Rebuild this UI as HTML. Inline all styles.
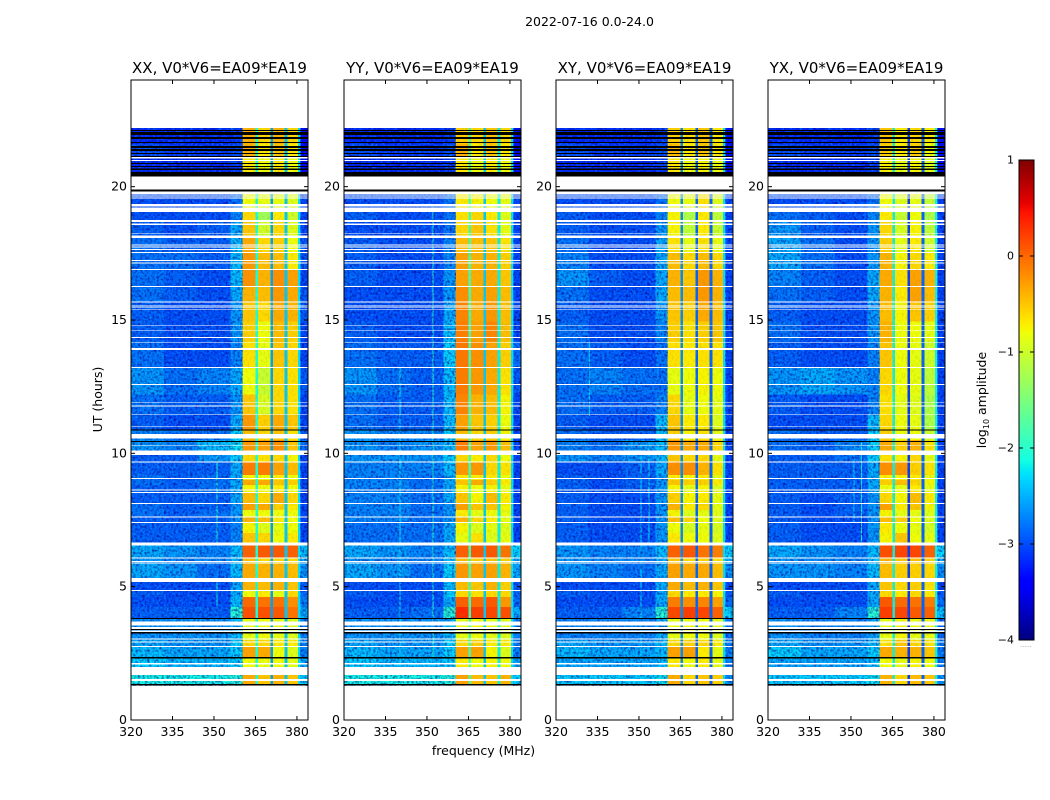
<!DOCTYPE html>
<html>
<head>
<meta charset="utf-8">
<title>2022-07-16 spectrograms</title>
<style>
html,body{margin:0;padding:0;background:#fff;}
svg{display:block;}
text{font-family:"DejaVu Sans","Liberation Sans",sans-serif;fill:#000;}
</style>
</head>
<body>
<svg id="chart" xmlns="http://www.w3.org/2000/svg" width="1050" height="800" viewBox="0 0 1050 800">
<defs>
<filter id="speckDark" x="0" y="0" width="1" height="1" color-interpolation-filters="sRGB">
<feTurbulence type="fractalNoise" baseFrequency="0.42" numOctaves="2" seed="3"/>
<feColorMatrix values="0 0 0 0 0  0 0 0 0 0  0 0 0 0 0.55  2.2 0 0 0 -0.9"/>
</filter>
<filter id="speckLight" x="0" y="0" width="1" height="1" color-interpolation-filters="sRGB">
<feTurbulence type="fractalNoise" baseFrequency="0.42" numOctaves="2" seed="11"/>
<feColorMatrix values="0 0 0 0 0  0 0 0 0 0.7  0 0 0 0 1  2.2 0 0 0 -0.95"/>
</filter>
<filter id="speckBand" x="0" y="0" width="1" height="1" color-interpolation-filters="sRGB">
<feTurbulence type="fractalNoise" baseFrequency="0.5 0.3" numOctaves="1" seed="7"/>
<feColorMatrix values="0 0 0 0 0.6  0 0 0 0 0.6  0 0 0 0 0  2 0 0 0 -0.9"/>
</filter>
</defs>
<text x="589.5" y="26" font-size="12.5" text-anchor="middle">2022-07-16 0.0-24.0</text>
<text x="483.5" y="755" font-size="12.5" text-anchor="middle">frequency (MHz)</text>
<text x="102" y="399.5" font-size="12.5" text-anchor="middle" transform="rotate(-90 102 399.5)">UT (hours)</text>
<g id="panels"></g>
<g id="colorbar"></g>
<text x="986" y="400" font-size="12.5" text-anchor="middle" transform="rotate(-90 986 400)">log<tspan font-size="8" dy="3">10</tspan><tspan dy="-3"> amplitude</tspan></text>
<text x="1026" y="647" font-size="6" text-anchor="middle" style="fill:#888">......</text>
</svg>
<script>
/* ---------- axis tick labels ---------- */
const freqTicks = [320, 335, 350, 365, 380];
const hourTicks = [0, 5, 10, 15, 20];
const colorbarTicks = [1, 0, -1, -2, -3, -4];
const panelTitles = ['XX, V0*V6=EA09*EA19', 'YY, V0*V6=EA09*EA19', 'XY, V0*V6=EA09*EA19', 'YX, V0*V6=EA09*EA19'];

/* ---------- heatmap column edges in MHz ---------- */
const freqEdges = [320, 332, 344, 356, 360.4, 365, 366, 370.4, 371.4, 375.5, 376.5, 380.4, 381.2, 384];

/* ---------- heatmap time-block edges in hours ---------- */
const hourEdges = [22.20,21.60,21.10,20.38,19.20,18.70,18.15,17.55,16.90,16.28,15.65,14.95,14.20,13.20,12.20,11.45,10.90,10.50,9.94,9.67,9.19,9.00,8.81,8.51,8.14,7.88,7.61,7.40,7.01,6.60,6.08,5.90,5.25,4.88,4.61,4.24,3.80,3.00,2.75,2.36,1.99,1.29];

/* ---------- log10 amplitude per block: bgL,bgM,bgR,shoulder,band1,band2,band3,band4,right ---------- */
const ampXX = [
[-3.2,-3.2,-3.2,-3.1,-.4,-.6,-.4,-.6,-3.3],
[-3.0,-3.1,-3.1,-3.0,-.4,-.7,-.5,-.7,-3.3],
[-3.2,-3.2,-3.2,-3.1,-.7,-.8,-.7,-.8,-3.3],
[-3.0,-3.0,-3.0,-2.8,-.8,-.85,-.85,-.9,-3.0],
[-3.0,-3.0,-3.0,-2.7,-.6,-1.3,-.7,-1.0,-3.0],
[-2.9,-3.0,-2.9,-2.5,-.5,-1.0,-.6,-.9,-3.0],
[-2.8,-2.9,-2.9,-2.4,-.35,-.6,-.55,-.8,-2.9],
[-2.8,-2.8,-2.9,-2.4,-.25,-.45,-.45,-.7,-2.9],
[-2.8,-2.9,-3.0,-2.4,-.22,-.4,-.2,-.3,-3.0],
[-2.8,-2.9,-3.0,-2.5,-.4,-.45,-.25,-.35,-2.9],
[-2.9,-3.0,-3.0,-2.6,-.5,-.6,-.35,-.4,-2.9],
[-2.9,-3.0,-3.0,-2.6,-.55,-.8,-.45,-.55,-3.0],
[-2.8,-3.0,-3.0,-2.7,-.65,-.85,-.5,-.6,-3.0],
[-2.6,-2.8,-2.7,-2.5,-.8,-1.05,-.6,-.65,-2.9],
[-2.8,-2.9,-2.9,-2.6,-.5,-.95,-.6,-.65,-3.0],
[-2.9,-3.0,-3.0,-2.5,-.25,-.55,-.35,-.5,-3.0],
[-2.7,-2.8,-2.8,-2.3,-.45,-.6,-.5,-.65,-2.9],
[-2.6,-2.7,-2.4,-2.2,-.25,-.3,-.2,-.5,-2.8],
[-2.9,-2.9,-2.6,-2.3,-.6,-.65,-.6,-.75,-3.0],
[-2.9,-2.9,-2.9,-2.5,-.1,-.1,-.3,-.45,-3.0],
[-2.8,-2.9,-2.8,-2.5,-.75,-.8,-.7,-.8,-3.0],
[-2.8,-2.9,-2.8,-2.5,-.35,-.35,-.5,-.55,-3.0],
[-2.9,-2.9,-2.8,-2.5,-.75,-.8,-.7,-.8,-3.0],
[-2.9,-2.9,-2.9,-2.5,-.45,-.6,-.35,-.6,-3.0],
[-2.8,-2.9,-2.9,-2.6,-.3,-.35,-.55,-.7,-3.0],
[-2.8,-2.9,-2.8,-2.6,-.8,-.8,-.8,-.8,-3.0],
[-2.9,-2.9,-2.9,-2.6,-.4,-.45,-.7,-.8,-3.0],
[-2.9,-2.9,-2.9,-2.7,-.75,-.9,-.85,-.8,-3.0],
[-2.9,-2.9,-2.9,-2.7,-.5,-.6,-.8,-.7,-3.0],
[-2.5,-2.6,-2.7,-2.4,.05,.1,.1,.05,-2.4],
[-2.6,-2.7,-2.7,-2.4,-.45,-.6,-.6,-.6,-2.5],
[-2.5,-2.6,-2.8,-2.4,-.35,-.4,-.4,-.45,-2.6],
[-3.0,-3.0,-3.0,-2.5,-.4,-.45,-.4,-.5,-2.9],
[-2.9,-3.0,-3.0,-2.5,-.8,-.7,-.85,-.6,-2.8],
[-3.0,-3.0,-3.0,-2.4,.0,-.05,-.05,-.2,-2.7],
[-2.9,-2.9,-2.9,-2.0,.15,.15,.1,-.05,-2.5],
[-2.6,-2.6,-2.6,-2.4,-.85,-.8,-.85,-.9,-2.7],
[-2.5,-2.6,-2.6,-2.3,-.6,-.6,-.7,-.7,-2.7],
[-2.4,-2.5,-2.5,-2.3,-.3,-.35,-.8,-.9,-2.7],
[-2.3,-2.4,-2.4,-2.3,-.8,-.85,-.8,-.85,-2.5],
[-2.1,-2.1,-2.1,-2.0,-.35,-.5,-.4,-.5,-2.3]
];
const ampYY = [
[-3.2,-3.2,-3.2,-3.1,-.55,-.6,-.5,-.6,-3.3],
[-3.0,-3.1,-3.1,-3.0,-.4,-.7,-.5,-.7,-3.3],
[-3.2,-3.2,-3.2,-3.1,-.7,-.8,-.7,-.8,-3.3],
[-3.0,-3.0,-3.0,-2.8,-.7,-.75,-.8,-.85,-3.0],
[-2.9,-3.0,-3.0,-2.8,-.65,-.6,-.7,-.9,-3.0],
[-3.0,-3.0,-3.0,-2.8,-.6,-.5,-.65,-.85,-3.0],
[-2.9,-3.0,-3.0,-2.7,-.45,-.45,-.5,-.65,-3.0],
[-2.9,-3.0,-3.0,-2.7,-.3,-.4,-.4,-.55,-3.0],
[-2.9,-3.0,-3.0,-2.6,-.3,-.35,-.35,-.5,-3.0],
[-3.0,-3.0,-3.0,-2.6,-.2,-.35,-.3,-.45,-3.0],
[-3.0,-3.0,-3.0,-2.5,-.15,-.35,-.25,-.45,-3.0],
[-2.9,-3.0,-3.0,-2.4,-.12,-.3,-.15,-.45,-3.0],
[-2.8,-2.9,-2.9,-2.3,-.08,-.2,-.3,-.55,-2.8],
[-2.6,-2.8,-2.9,-2.4,-.1,-.25,-.35,-.65,-2.9],
[-2.8,-2.9,-2.9,-2.4,-.15,-.4,-.45,-.75,-3.0],
[-2.8,-2.9,-2.9,-2.4,-.3,-.5,-.55,-.8,-3.0],
[-2.6,-2.7,-2.7,-2.3,-.45,-.6,-.55,-.75,-3.0],
[-2.6,-2.7,-2.6,-2.4,-.1,-.3,-.25,-.45,-3.0],
[-2.6,-2.6,-2.6,-2.3,-.6,-.7,-.6,-.8,-3.0],
[-2.7,-2.7,-2.7,-2.4,-.25,-.25,-.6,-.65,-3.0],
[-2.7,-2.7,-2.8,-2.5,-.7,-.7,-.7,-.8,-3.0],
[-2.7,-2.7,-2.8,-2.5,-.5,-.35,-.55,-.7,-3.0],
[-2.7,-2.7,-2.8,-2.5,-.75,-.8,-.75,-.85,-3.0],
[-2.7,-2.7,-2.8,-2.5,-.5,-.75,-.45,-.7,-3.0],
[-2.7,-2.7,-2.8,-2.6,-.3,-.5,-.5,-.75,-3.0],
[-2.7,-2.7,-2.8,-2.6,-.7,-.85,-.8,-.85,-3.0],
[-2.7,-2.7,-2.8,-2.6,-.4,-.6,-.7,-.85,-3.0],
[-2.8,-2.8,-2.8,-2.5,-.75,-.9,-.85,-.9,-3.0],
[-2.8,-2.8,-2.8,-2.5,-.85,-.65,-.9,-.85,-3.0],
[-2.5,-2.6,-2.7,-2.4,.05,.1,.1,-.05,-2.3],
[-2.6,-2.7,-2.7,-2.4,-.45,-.55,-.5,-.55,-2.5],
[-2.5,-2.6,-2.8,-2.3,-.25,-.3,-.3,-.4,-2.5],
[-3.0,-3.0,-3.0,-2.4,-.45,-.5,-.4,-.55,-2.9],
[-2.9,-3.0,-3.0,-2.3,-.6,-.65,-.6,-.6,-2.8],
[-3.0,-3.0,-3.0,-2.5,.05,.0,.1,-.25,-2.8],
[-2.9,-2.9,-2.8,-2.0,.35,.25,.2,.15,-2.5],
[-2.6,-2.6,-2.6,-2.4,-.85,-.8,-.85,-.9,-2.7],
[-2.5,-2.6,-2.6,-2.3,-.6,-.55,-.7,-.7,-2.7],
[-2.4,-2.5,-2.5,-2.3,-.3,-.3,-.75,-.9,-2.7],
[-2.3,-2.4,-2.4,-2.3,-.7,-.8,-.75,-.8,-2.5],
[-2.1,-2.1,-2.1,-2.0,-.3,-.45,-.5,-.4,-2.3]
];
const ampXY = [
[-3.2,-3.2,-3.2,-3.1,-.55,-.65,-.5,-.7,-3.3],
[-3.0,-3.1,-3.1,-3.0,-.45,-.7,-.5,-.7,-3.3],
[-3.2,-3.2,-3.2,-3.1,-.7,-.8,-.75,-.8,-3.3],
[-3.0,-3.0,-3.0,-2.8,-.8,-.85,-.65,-.9,-3.0],
[-2.9,-3.0,-3.0,-2.7,-.75,-1.2,-.7,-1.1,-3.0],
[-2.9,-3.0,-3.0,-2.6,-.75,-1.1,-.7,-1.05,-3.0],
[-2.8,-3.0,-3.0,-2.5,-.65,-.85,-.65,-.85,-3.0],
[-2.7,-3.0,-3.0,-2.5,-.45,-.6,-.45,-.6,-3.0],
[-2.6,-2.9,-3.0,-2.5,-.4,-.5,-.25,-.4,-3.0],
[-2.8,-3.0,-3.0,-2.5,-.45,-.45,-.25,-.4,-3.0],
[-2.9,-3.0,-3.0,-2.6,-.5,-.55,-.35,-.45,-3.0],
[-2.8,-3.0,-3.0,-2.7,-.55,-.65,-.55,-.5,-3.0],
[-2.8,-2.9,-3.0,-2.8,-.65,-.7,-.65,-.65,-3.0],
[-2.8,-2.7,-2.8,-2.8,-.85,-.8,-.75,-.8,-3.0],
[-2.8,-2.9,-2.9,-2.7,-.6,-.85,-.8,-.85,-3.0],
[-2.9,-3.0,-3.0,-2.4,-.5,-.7,-.7,-.9,-3.0],
[-2.8,-2.9,-2.9,-2.4,-.55,-.75,-.65,-.85,-3.0],
[-2.7,-2.8,-2.6,-2.4,-.25,-.35,-.35,-.6,-3.0],
[-2.6,-2.7,-2.6,-2.4,-.5,-.6,-.6,-.85,-3.0],
[-3.0,-3.0,-2.9,-2.5,-.2,-.2,-.4,-.65,-3.0],
[-2.9,-3.0,-2.9,-2.6,-.7,-.75,-.7,-.85,-3.0],
[-2.9,-3.0,-2.9,-2.6,-.5,-.55,-.55,-.7,-3.0],
[-2.9,-3.0,-2.9,-2.6,-.75,-.85,-.75,-.9,-3.0],
[-2.9,-3.0,-3.0,-2.6,-.55,-.75,-.7,-.85,-3.0],
[-2.9,-3.0,-3.0,-2.6,-.4,-.7,-.6,-.85,-3.0],
[-2.9,-3.0,-3.0,-2.6,-.75,-.9,-.85,-.9,-3.0],
[-2.9,-3.0,-3.0,-2.6,-.45,-.6,-.8,-.9,-3.0],
[-2.9,-3.0,-3.0,-2.6,-.8,-.95,-.85,-.95,-3.0],
[-2.9,-3.0,-3.0,-2.6,-.7,-.8,-.8,-.9,-3.0],
[-2.6,-2.7,-2.7,-2.4,.05,.1,-.05,-.1,-2.3],
[-2.6,-2.7,-2.7,-2.5,-.5,-.6,-.55,-.65,-2.5],
[-2.6,-2.7,-2.8,-2.5,-.3,-.35,-.35,-.45,-2.6],
[-3.0,-3.0,-3.0,-2.5,-.35,-.45,-.4,-.5,-3.0],
[-2.9,-3.0,-3.0,-2.5,-.6,-.7,-.7,-.75,-2.9],
[-3.0,-3.0,-3.0,-2.5,-.1,-.2,-.15,-.3,-2.8],
[-2.9,-2.9,-2.7,-2.0,.2,.25,.2,.05,-2.3],
[-2.7,-2.7,-2.7,-2.5,-.85,-.8,-.8,-.9,-2.8],
[-2.5,-2.6,-2.6,-2.4,-.6,-.55,-.6,-.7,-2.7],
[-2.4,-2.5,-2.5,-2.4,-.3,-.3,-.7,-.85,-2.7],
[-2.5,-2.5,-2.5,-2.4,-.7,-.8,-.7,-.85,-2.7],
[-2.3,-2.3,-2.3,-2.2,-.35,-.6,-.5,-.55,-2.6]
];
const ampYX = [
[-3.2,-3.2,-3.2,-3.1,-.5,-.7,-.6,-.7,-3.3],
[-3.0,-3.1,-3.1,-3.0,-.55,-.7,-.55,-.8,-3.3],
[-3.2,-3.2,-3.2,-3.1,-.75,-.85,-.75,-.9,-3.3],
[-3.0,-3.0,-3.0,-2.8,-.8,-.9,-.85,-1.05,-3.0],
[-2.8,-2.9,-3.0,-2.7,-.7,-1.05,-.8,-1.2,-3.0],
[-2.6,-2.9,-3.0,-2.6,-.6,-.95,-.75,-1.1,-3.0],
[-2.5,-2.8,-3.0,-2.6,-.55,-.85,-.7,-1.0,-3.0],
[-2.5,-2.8,-3.0,-2.6,-.4,-.75,-.6,-.7,-3.0],
[-2.7,-2.9,-3.0,-2.5,-.35,-.65,-.3,-.4,-3.0],
[-2.8,-2.9,-3.0,-2.5,-.4,-.7,-.3,-.45,-3.0],
[-2.9,-3.0,-3.0,-2.6,-.45,-.75,-.5,-.55,-3.0],
[-2.8,-3.0,-3.0,-2.6,-.4,-.8,-.8,-.85,-3.0],
[-2.9,-3.0,-3.0,-2.7,-.5,-.8,-.85,-1.0,-3.0],
[-2.6,-2.5,-2.6,-2.7,-.6,-.8,-.85,-1.1,-3.0],
[-2.9,-3.0,-3.0,-2.7,-.65,-.85,-.9,-1.2,-3.0],
[-3.0,-3.0,-3.0,-2.4,-.6,-.8,-.85,-1.2,-3.0],
[-2.8,-2.9,-2.9,-2.3,-.55,-.8,-.8,-1.0,-3.0],
[-2.8,-2.9,-2.7,-2.3,-.35,-.55,-.4,-.65,-3.0],
[-2.9,-2.9,-2.8,-2.3,-.65,-.75,-.6,-.85,-3.0],
[-2.9,-2.9,-2.9,-2.5,-.2,-.25,-.55,-.65,-3.0],
[-2.9,-2.9,-2.9,-2.5,-.7,-.75,-.7,-.85,-3.0],
[-2.9,-2.9,-2.9,-2.5,-.55,-.45,-.6,-.75,-3.0],
[-2.9,-2.9,-2.9,-2.5,-.8,-.85,-.7,-.85,-3.0],
[-2.9,-3.0,-2.9,-2.6,-.6,-.75,-.45,-.7,-3.0],
[-2.9,-3.0,-2.9,-2.6,-.3,-.7,-.5,-.75,-3.0],
[-2.9,-3.0,-2.9,-2.6,-.75,-.85,-.85,-.9,-3.0],
[-2.9,-3.0,-3.0,-2.6,-.45,-.55,-.8,-.9,-3.0],
[-2.9,-3.0,-3.0,-2.6,-.7,-.8,-.85,-.95,-3.0],
[-2.9,-3.0,-3.0,-2.6,-.75,-.5,-.8,-.85,-3.0],
[-2.5,-2.6,-2.7,-2.4,.15,.2,.2,.05,-2.3],
[-2.6,-2.7,-2.7,-2.4,-.4,-.5,-.45,-.55,-2.5],
[-2.6,-2.6,-2.7,-2.4,-.45,-.55,-.55,-.6,-2.6],
[-3.0,-3.0,-3.0,-2.5,-.5,-.6,-.55,-.65,-3.0],
[-2.9,-3.0,-3.0,-2.5,-.6,-.7,-.6,-.7,-2.9],
[-3.0,-3.0,-3.0,-2.5,.1,.0,-.05,-.1,-2.8],
[-2.9,-2.9,-2.7,-2.0,.25,.2,.1,.05,-2.4],
[-2.6,-2.7,-2.7,-2.5,-.85,-.75,-.85,-.85,-2.8],
[-2.5,-2.6,-2.6,-2.4,-.65,-.5,-.6,-.65,-2.7],
[-2.3,-2.5,-2.5,-2.3,-.35,-.4,-.4,-.5,-2.7],
[-2.5,-2.5,-2.5,-2.4,-.8,-.85,-.75,-.8,-2.7],
[-2.3,-2.3,-2.3,-2.2,-.4,-.6,-.45,-.5,-2.6]
];

/* ---------- narrow notch channels: 365, 371, 376, 380.8 MHz ---------- */
const notchXX = [-2.1, -2.6, -2.4, -2.3];
const notchYY = [-1.9, -2.4, -2.2, -2.3];
const notchXY = [-2.7, -2.9, -2.9, -2.3];
const notchYX = [-2.2, -3.1, -2.9, -2.2];

/* ---------- narrow interference lines: [MHz, hour from, hour to, log amplitude] ---------- */
const rfiXX = [[351, 6.6, 9.9, -2.1], [351, 4.3, 5.2, -2.1]];
const rfiYY = [[340, 2.0, 13.2, -2.2], [352, 2.3, 19.3, -2.0]];
const rfiXY = [[332, 11.4, 14.2, -2.3], [350.5, 2.4, 10.4, -2.3], [353.4, 6.6, 10.4, -2.2]];
const rfiYX = [[351, 7.4, 10.3, -2.3], [353.6, 6.7, 10.4, -2.1]];

/* ---------- flagged time ranges in hours: drawn white (no data) ---------- */
const whiteHours = [[21.06,21.11],[20.96,21.0],[19.90,20.38],[19.70,19.81],[19.63,19.67],[19.56,19.60],[19.25,19.35],[19.05,19.21],[18.68,18.75],[18.57,18.61],[18.24,18.27],[18.08,18.16],[17.80,17.84],[17.71,17.75],[17.63,17.66],[17.51,17.55],[17.21,17.25],[17.11,17.15],[16.88,16.91],[16.24,16.28],[15.65,15.70],[15.54,15.57],[15.46,15.50],[15.39,15.42],[14.79,14.82],[14.58,14.61],[14.33,14.36],[14.13,14.16],[13.88,13.95],[13.2,13.24],[12.56,12.6],[11.88,11.91],[11.76,11.80],[11.43,11.46],[10.98,11.01],[10.56,10.73],[10.27,10.30],[9.94,10.10],[9.65,9.69],[9.04,9.08],[8.61,8.65],[8.52,8.55],[8.10,8.14],[7.60,7.64],[7.39,7.43],[6.54,6.65],[6.06,6.10],[5.93,5.96],[5.86,5.90],[5.18,5.33],[4.84,4.88],[3.54,3.70],[3.41,3.48],[3.30,3.36],[3.01,3.05],[2.90,2.95],[2.74,2.78],[2.09,2.13],[1.69,1.99],[1.46,1.53]];

/* ---------- time ranges in hours drawn black ---------- */
const blackHours = [[22.09,22.13],[21.94,22.05],[21.79,21.86],[21.64,21.68],[21.45,21.53],[21.34,21.41],[21.23,21.26],[21.11,21.15],[20.85,20.89],[20.74,20.78],[20.63,20.68],[20.38,20.55],[19.81,19.90],[10.86,10.90],[10.43,10.46],[3.79,3.83],[3.38,3.41],[3.25,3.30],[2.30,2.36],[1.29,1.35]];

const panelAmps = [ampXX, ampYY, ampXY, ampYX];
const panelNotches = [notchXX, notchYY, notchXY, notchYX];
const panelRfi = [rfiXX, rfiYY, rfiXY, rfiYX];
const panelNames = ['xx', 'yy', 'xy', 'yx'];

/* ---------- layout and scales ---------- */
const SVGNS = 'http://www.w3.org/2000/svg';
const axesLeft = [131, 344, 556, 768];
const axesWidth = 177, axesTop = 80, axesHeight = 640;
const freqMin = 320, freqMax = 384, hourMin = 0, hourMax = 24;
const cbLeft = 1019, cbWidth = 15, cbTop = 160, cbHeight = 480, cbMin = -4, cbMax = 1;

function xScale(left, f) { return left + (f - freqMin) / (freqMax - freqMin) * axesWidth; }
function yScale(h) { return axesTop + (hourMax - h) / (hourMax - hourMin) * axesHeight; }
function cbScale(v) { return cbTop + (cbMax - v) / (cbMax - cbMin) * cbHeight; }

function ramp(t, pts) {
  for (let i = 1; i < pts.length; i++) {
    if (t <= pts[i][0]) {
      const a = pts[i - 1], b = pts[i];
      return a[1] + (b[1] - a[1]) * (t - a[0]) / (b[0] - a[0]);
    }
  }
  return pts[pts.length - 1][1];
}
function jet(v) {
  const t = Math.max(0, Math.min(1, (v - cbMin) / (cbMax - cbMin)));
  const r = ramp(t, [[0, 0], [.35, 0], [.66, 1], [.89, 1], [1, .5]]);
  const g = ramp(t, [[0, 0], [.125, 0], [.375, 1], [.64, 1], [.91, 0], [1, 0]]);
  const b = ramp(t, [[0, .5], [.11, 1], [.34, 1], [.65, 0], [1, 0]]);
  return 'rgb(' + Math.round(r * 255) + ',' + Math.round(g * 255) + ',' + Math.round(b * 255) + ')';
}
function rect(parent, x, y, w, h, fill, crisp) {
  const el = document.createElementNS(SVGNS, 'rect');
  el.setAttribute('x', x);
  el.setAttribute('y', y);
  el.setAttribute('width', w);
  el.setAttribute('height', h);
  el.setAttribute('fill', fill);
  if (crisp) el.setAttribute('shape-rendering', 'crispEdges');
  parent.appendChild(el);
  return el;
}
function label(parent, x, y, str, size, anchor) {
  const el = document.createElementNS(SVGNS, 'text');
  el.setAttribute('x', x);
  el.setAttribute('y', y);
  el.setAttribute('font-size', size);
  el.setAttribute('text-anchor', anchor);
  el.textContent = str;
  parent.appendChild(el);
  return el;
}
function tick(parent, x1, y1, x2, y2) {
  const el = document.createElementNS(SVGNS, 'line');
  el.setAttribute('x1', x1);
  el.setAttribute('y1', y1);
  el.setAttribute('x2', x2);
  el.setAttribute('y2', y2);
  el.setAttribute('stroke', '#000');
  el.setAttribute('stroke-width', '1');
  parent.appendChild(el);
  return el;
}

const panelsRoot = document.getElementById('panels');

panelTitles.forEach(function (title, p) {
  const left = axesLeft[p];
  const amps = panelAmps[p], notch = panelNotches[p], rfi = panelRfi[p];
  const g = document.createElementNS(SVGNS, 'g');
  
  
  panelsRoot.appendChild(g);

  const bg = rect(g, left, axesTop, axesWidth, axesHeight, '#fff');
  
  

  /* heatmap cells */
  amps.forEach(function (row, b) {
    const cols = [row[0], row[1], row[2], row[3], row[4], notch[0], row[5], notch[1], row[6], notch[2], row[7], notch[3], row[8]];
    const y0 = yScale(hourEdges[b]), y1 = yScale(hourEdges[b + 1]);
    cols.forEach(function (val, c) {
      const x0 = xScale(left, freqEdges[c]), x1 = xScale(left, freqEdges[c + 1]);
      const cell = rect(g, x0, y0, x1 - x0, y1 - y0, jet(val), true);
      
      
    });
  });

  /* interference lines */
  rfi.forEach(function (line) {
    const el = rect(g, xScale(left, line[0]), yScale(line[2]), 1, yScale(line[1]) - yScale(line[2]), jet(line[3]), true);
    
    
  });

  /* speckle texture: background channels get blue speckle, bright bands a faint ripple */
  const hTop = yScale(hourEdges[0]), hBot = yScale(hourEdges[hourEdges.length - 1]);
  const bgW = xScale(left, 360.4) - left;
  const rightX = xScale(left, 381.2), rightW = left + axesWidth - rightX;
  const dark = rect(g, left, hTop, bgW, hBot - hTop, '#000');
  dark.setAttribute('filter', 'url(#speckDark)');
  dark.setAttribute('opacity', '0.8');
  
  
  const light = rect(g, left, hTop, bgW, hBot - hTop, '#000');
  light.setAttribute('filter', 'url(#speckLight)');
  light.setAttribute('opacity', '0.5');
  
  
  const darkRight = rect(g, rightX, hTop, rightW, hBot - hTop, '#000');
  darkRight.setAttribute('filter', 'url(#speckDark)');
  darkRight.setAttribute('opacity', '0.8');
  
  
  const bandX = xScale(left, 360.4);
  const ripple = rect(g, bandX, hTop, xScale(left, 380.4) - bandX, hBot - hTop, '#000');
  ripple.setAttribute('filter', 'url(#speckBand)');
  ripple.setAttribute('opacity', '0.35');
  
  

  /* flagged time ranges */
  whiteHours.forEach(function (r) {
    const el = rect(g, left, yScale(r[1]), axesWidth, yScale(r[0]) - yScale(r[1]), '#fff', true);
    
    
  });
  blackHours.forEach(function (r) {
    const el = rect(g, left, yScale(r[1]), axesWidth, yScale(r[0]) - yScale(r[1]), '#000', true);
    
    
  });
  const cover = rect(g, left, axesTop, axesWidth, yScale(hourEdges[0]) - axesTop, '#fff');
  
  

  /* ticks and labels */
  freqTicks.forEach(function (f) {
    const x = xScale(left, f);
    const a = tick(g, x, axesTop + axesHeight, x, axesTop + axesHeight - 4);
    
    
    const b = tick(g, x, axesTop, x, axesTop + 4);
    
    
    const t = label(g, x, 736, String(f), 12.5, 'middle');
    
    
  });
  hourTicks.forEach(function (h) {
    const y = yScale(h);
    const a = tick(g, left, y, left + 4, y);
    
    
    const b = tick(g, left + axesWidth, y, left + axesWidth - 4, y);
    
    
    const t = label(g, left - 4, y + 4, String(h), 12.5, 'end');
    
    
  });

  const frame = rect(g, left, axesTop, axesWidth, axesHeight, 'none');
  frame.setAttribute('stroke', '#000');
  frame.setAttribute('stroke-width', '1');
  
  

  const tt = label(g, left + axesWidth / 2, 73, title, 15, 'middle');
  
  
});

/* ---------- colorbar ---------- */
const cbRoot = document.getElementById('colorbar');
for (let i = 0; i < cbHeight; i++) {
  const v = cbMax - (i + 0.5) / cbHeight * (cbMax - cbMin);
  const s = rect(cbRoot, cbLeft, cbTop + i, cbWidth, 1, jet(v), true);
  
  
}
colorbarTicks.forEach(function (v) {
  const y = cbScale(v);
  const a = tick(cbRoot, cbLeft, y, cbLeft + 4, y);
  
  
  const b = tick(cbRoot, cbLeft + cbWidth, y, cbLeft + cbWidth - 4, y);
  
  
  const t = label(cbRoot, 1014, y + 3.5, String(v).replace('-', '\u2212'), 11, 'end');
  
  
});
const cbFrame = rect(cbRoot, cbLeft, cbTop, cbWidth, cbHeight, 'none');
cbFrame.setAttribute('stroke', '#000');
cbFrame.setAttribute('stroke-width', '1');


</script>
</body>
</html>
